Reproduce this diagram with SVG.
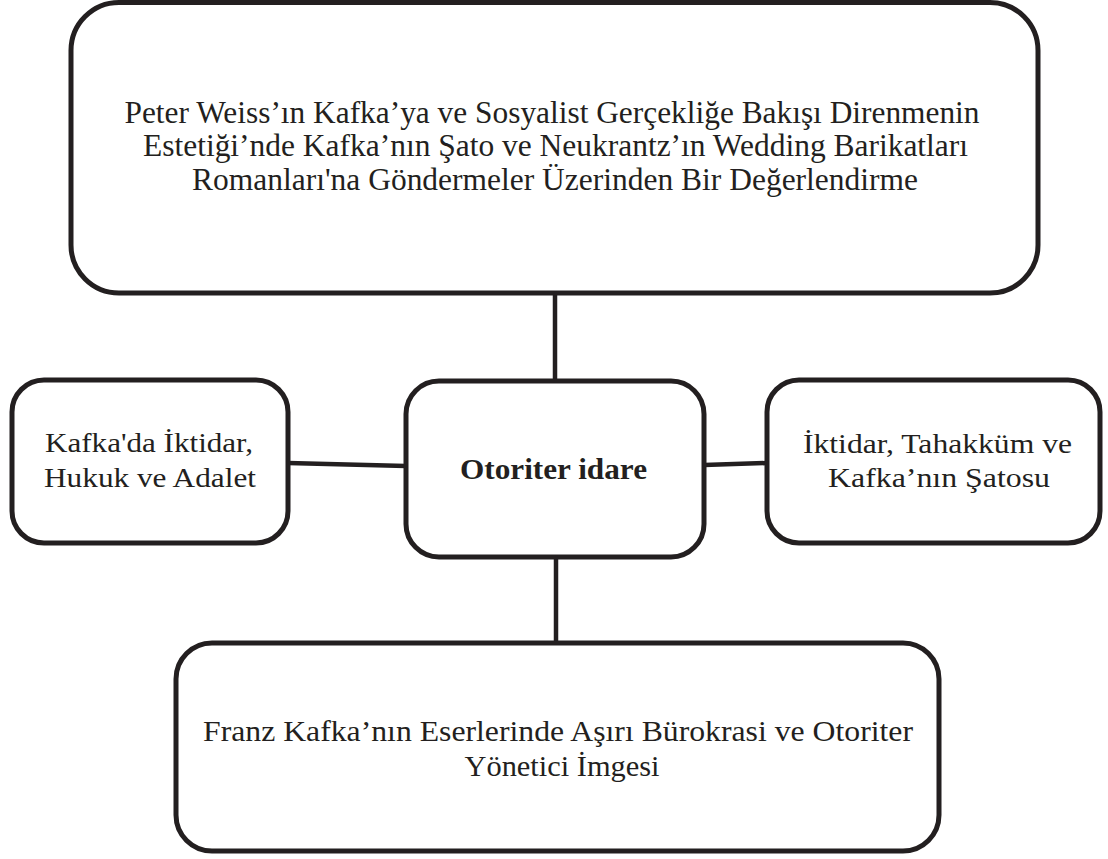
<svg xmlns="http://www.w3.org/2000/svg" width="1108" height="859" viewBox="0 0 1108 859">
<style>
.box{fill:#ffffff;stroke:#231f20;stroke-width:5}
.edge{stroke:#231f20;stroke-width:4.5;fill:none}
.t{font-family:"Liberation Serif","Times New Roman",serif;fill:#231f20;text-anchor:middle}
.b{font-weight:bold}
</style>
<rect width="1108" height="859" fill="#ffffff"/>
<g id="connectors">
<line class="edge" x1="555" y1="293" x2="555" y2="381"/>
<line class="edge" x1="288" y1="463" x2="406" y2="466"/>
<line class="edge" x1="704" y1="465" x2="767" y2="463"/>
<line class="edge" x1="556" y1="557" x2="556" y2="643"/>
</g>
<g id="node-top">
<rect class="box" x="71" y="2.5" width="967" height="290.5" rx="48" ry="48"/>
<text class="t" font-size="32" x="552" y="123" textLength="855" lengthAdjust="spacingAndGlyphs">Peter Weiss’ın Kafka’ya ve Sosyalist Gerçekliğe Bakışı Direnmenin</text>
<text class="t" font-size="32" x="555.5" y="156" textLength="825" lengthAdjust="spacingAndGlyphs">Estetiği’nde Kafka’nın Şato ve Neukrantz’ın Wedding Barikatları</text>
<text class="t" font-size="32" x="555" y="190" textLength="726" lengthAdjust="spacingAndGlyphs">Romanları'na Göndermeler Üzerinden Bir Değerlendirme</text>
</g>
<g id="node-left">
<rect class="box" x="12" y="380" width="276" height="163" rx="32" ry="32"/>
<text class="t" font-size="27" x="149" y="452" textLength="208" lengthAdjust="spacingAndGlyphs">Kafka'da İktidar,</text>
<text class="t" font-size="27" x="150" y="487" textLength="212" lengthAdjust="spacingAndGlyphs">Hukuk ve Adalet</text>
</g>
<g id="node-center">
<rect class="box" x="406" y="381" width="298" height="176" rx="33" ry="33"/>
<text class="t b" font-size="30" x="553.5" y="479" textLength="187" lengthAdjust="spacingAndGlyphs">Otoriter idare</text>
</g>
<g id="node-right">
<rect class="box" x="767" y="380" width="333" height="163" rx="32" ry="32"/>
<text class="t" font-size="27" x="937.5" y="453" textLength="269" lengthAdjust="spacingAndGlyphs">İktidar, Tahakküm ve</text>
<text class="t" font-size="27" x="939" y="487" textLength="222" lengthAdjust="spacingAndGlyphs">Kafka’nın Şatosu</text>
</g>
<g id="node-bottom">
<rect class="box" x="176" y="643" width="763" height="208" rx="36" ry="36"/>
<text class="t" font-size="30" x="558" y="741" textLength="710" lengthAdjust="spacingAndGlyphs">Franz Kafka’nın Eserlerinde Aşırı Bürokrasi ve Otoriter</text>
<text class="t" font-size="30" x="562" y="776" textLength="195" lengthAdjust="spacingAndGlyphs">Yönetici İmgesi</text>
</g>
</svg>
